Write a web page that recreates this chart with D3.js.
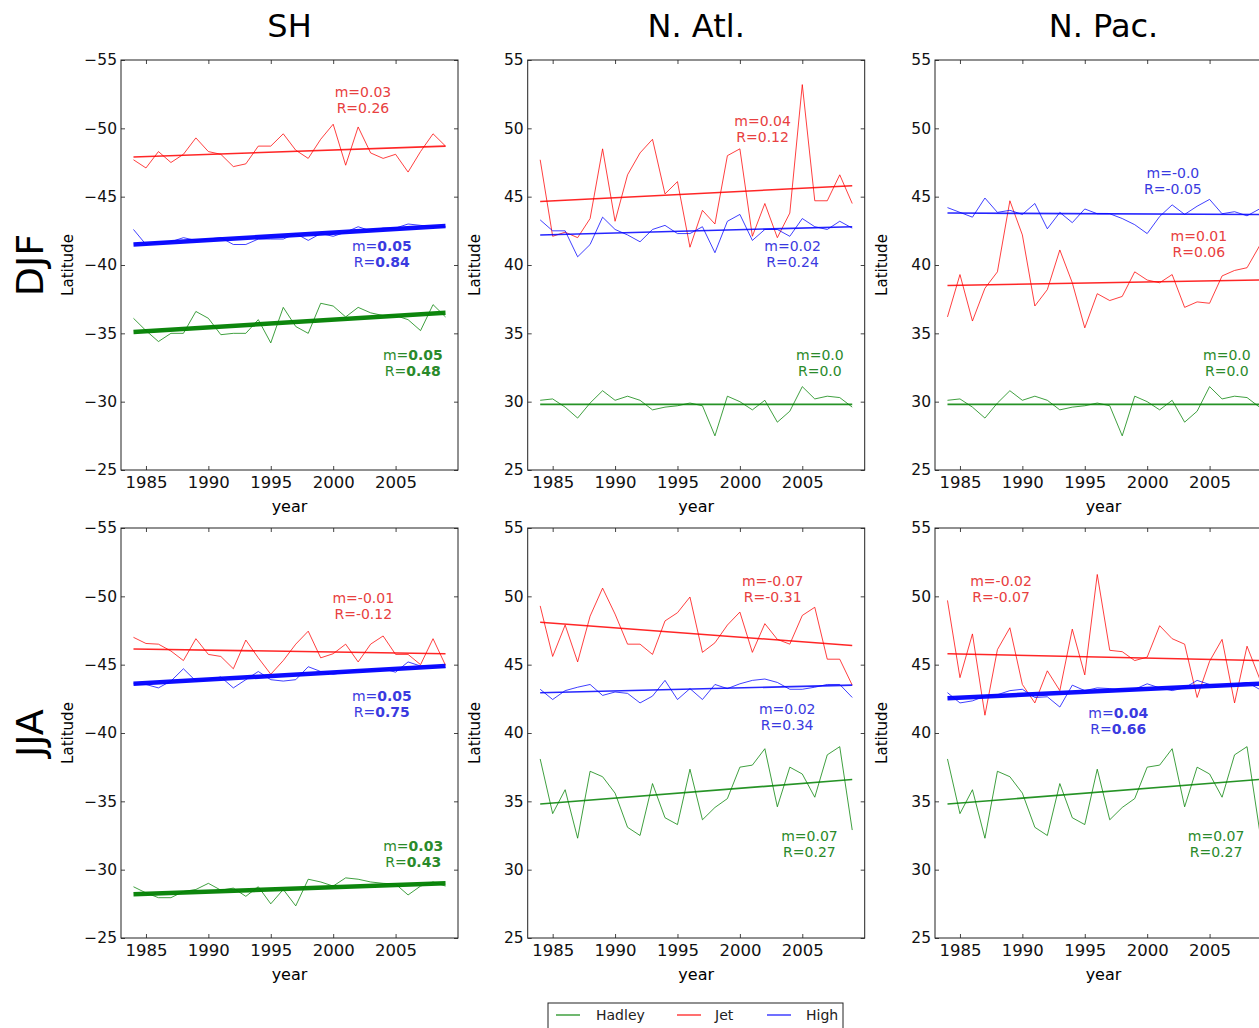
<!DOCTYPE html>
<html>
<head>
<meta charset="utf-8">
<script src="https://cdn.jsdelivr.net/npm/d3@7"></script>
<style>
  body { margin: 0; background: #fff; }
  svg { display: block; font-family: "DejaVu Sans", sans-serif; }
  svg text { font-family: "DejaVu Sans", sans-serif; }
</style>
</head>
<body>
<div id="chart"></div>
<script>
// years on the x axis
var years = [1984, 1985, 1986, 1987, 1988, 1989, 1990, 1991, 1992, 1993, 1994, 1995, 1996,
             1997, 1998, 1999, 2000, 2001, 2002, 2003, 2004, 2005, 2006, 2007, 2008, 2009];
var xTicks = [1985, 1990, 1995, 2000, 2005];
var shTicks = [-55, -50, -45, -40, -35, -30, -25];
var nhTicks = [25, 30, 35, 40, 45, 50, 55];

var columnTitles = ['SH', 'N. Atl.', 'N. Pac.'];
var rowTitles = ['DJF', 'JJA'];
var seriesNames = ['Hadley', 'Jet', 'High'];

// DJF
var shDjfJet = [-47.7, -47.1, -48.3, -47.5, -48.1, -49.3, -48.3, -48.1, -47.2, -47.4, -48.7, -48.7, -49.6,
                -48.4, -47.8, -49.2, -50.3, -47.3, -50.1, -48.2, -47.8, -48.1, -46.8, -48.3, -49.6, -48.7];
var shDjfHigh = [-42.6, -41.5, -41.7, -41.7, -42.0, -41.8, -41.9, -42.0, -41.5, -41.5, -41.9, -41.9, -41.9,
                 -42.3, -41.8, -42.3, -42.1, -42.4, -42.8, -42.5, -42.7, -42.7, -43.0, -42.9, -42.8, -42.8];
var shDjfHadley = [-36.1, -35.2, -34.4, -35.0, -35.0, -36.6, -36.1, -34.9, -35.0, -35.0, -36.0, -34.3, -36.9,
                   -35.5, -35.0, -37.2, -37.0, -36.2, -36.9, -36.5, -36.3, -36.3, -36.0, -35.2, -37.1, -36.2];

var atlDjfJet = [47.7, 42.1, 42.4, 42.0, 43.4, 48.5, 43.2, 46.6, 48.2, 49.2, 45.2, 46.1, 41.3,
                 44.0, 43.0, 48.0, 48.5, 42.1, 44.5, 42.0, 43.8, 53.2, 44.7, 44.7, 46.6, 44.5];
var atlDjfHigh = [43.3, 42.5, 42.5, 40.6, 41.5, 43.5, 42.6, 42.2, 41.7, 42.6, 42.9, 42.3, 42.3,
                  42.8, 40.9, 43.2, 43.7, 41.8, 42.6, 42.6, 42.1, 43.4, 42.8, 42.6, 43.2, 42.7];
var nhDjfHadley = [30.1, 30.2, 29.6, 28.8, 29.9, 30.8, 30.1, 30.4, 30.1, 29.4, 29.6, 29.7, 29.9,
                   29.7, 27.5, 30.4, 30.0, 29.4, 30.1, 28.5, 29.3, 31.1, 30.2, 30.4, 30.3, 29.6];

var pacDjfJet = [36.2, 39.3, 35.9, 38.3, 39.5, 44.7, 42.2, 37.0, 38.2, 41.1, 38.7, 35.4, 37.9,
                 37.4, 37.7, 39.5, 38.9, 38.7, 39.3, 36.9, 37.3, 37.2, 39.2, 39.6, 39.8, 41.4];
var pacDjfHigh = [44.2, 43.85, 43.5, 44.9, 43.85, 44.0, 43.7, 44.5, 42.65, 43.85, 43.1, 44.1, 43.75,
                  43.75, 43.4, 42.95, 42.3, 43.55, 44.4, 43.7, 44.3, 44.8, 43.75, 43.9, 43.6, 44.1];

// JJA
var shJjaJet = [-47.0, -46.55, -46.5, -46.0, -45.3, -46.9, -45.75, -45.6, -44.7, -46.8, -45.5, -44.3, -45.3,
                -46.5, -47.45, -45.5, -45.8, -46.5, -45.2, -46.5, -47.1, -45.75, -45.75, -45.0, -46.9, -44.95];
var shJjaHigh = [-43.6, -43.55, -43.3, -43.8, -44.7, -43.8, -43.9, -44.1, -43.3, -43.9, -44.5, -43.9, -43.8,
                 -43.9, -44.85, -44.5, -44.3, -44.45, -44.6, -44.55, -44.7, -44.45, -45.2, -44.9, -44.9, -44.8];
var shJjaHadley = [-28.75, -28.3, -27.95, -27.95, -28.4, -28.55, -29.0, -28.5, -28.65, -28.05, -28.75, -27.5, -28.55,
                   -27.35, -29.3, -29.1, -28.8, -29.4, -29.3, -29.1, -29.0, -28.95, -28.15, -28.8, -29.1, -28.8];

var atlJjaJet = [49.3, 45.6, 47.9, 45.2, 48.55, 50.6, 48.7, 46.5, 46.5, 45.75, 48.2, 48.8, 49.95,
                 45.9, 46.6, 47.9, 48.85, 45.9, 48.0, 46.85, 46.5, 48.6, 49.2, 45.4, 45.4, 43.5];
var atlJjaHigh = [43.2, 42.45, 43.1, 43.35, 43.55, 42.75, 43.0, 42.9, 42.2, 42.7, 43.85, 42.45, 43.25,
                  42.45, 43.55, 43.25, 43.6, 43.85, 43.95, 43.7, 43.2, 43.2, 43.35, 43.55, 43.55, 42.6];
var nhJjaHadley = [38.1, 34.1, 35.85, 32.3, 37.2, 36.8, 35.6, 33.1, 32.5, 36.3, 33.8, 33.3, 37.35,
                   33.65, 34.55, 35.2, 37.5, 37.65, 38.85, 34.6, 37.5, 37.0, 35.3, 38.4, 39.0, 32.9];

var pacJjaJet = [49.7, 44.05, 47.25, 41.3, 46.1, 47.7, 43.55, 42.2, 44.55, 43.1, 47.6, 44.25, 51.6,
                 46.05, 45.95, 45.3, 45.55, 47.85, 46.9, 46.5, 42.6, 45.25, 46.85, 42.2, 46.35, 44.0];
var pacJjaHigh = [42.95, 42.2, 42.35, 42.7, 42.8, 43.1, 43.2, 42.6, 42.65, 41.9, 43.5, 43.1, 43.3,
                  43.25, 43.1, 43.2, 43.6, 43.3, 43.1, 43.3, 43.85, 43.55, 43.45, 43.55, 43.7, 43.2];

// fitted trend values at 1984 and 2009: [Hadley, Jet, High]
var shDjfTrend = [[-35.1, -36.5], [-47.9, -48.7], [-41.5, -42.85]];
var atlDjfTrend = [[29.8, 29.8], [44.65, 45.8], [42.2, 42.8]];
var pacDjfTrend = [[29.8, 29.8], [38.5, 38.9], [43.8, 43.7]];
var shJjaTrend = [[-28.2, -29.0], [-46.15, -45.8], [-43.6, -44.9]];
var atlJjaTrend = [[34.8, 36.6], [48.1, 46.4], [42.95, 43.5]];
var pacJjaTrend = [[34.8, 36.6], [45.8, 45.3], [42.55, 43.6]];

// slope m and correlation R: [Hadley, Jet, High]
var shDjfM = ['0.05', '0.03', '0.05'], shDjfR = ['0.48', '0.26', '0.84'];
var atlDjfM = ['0.0', '0.04', '0.02'], atlDjfR = ['0.0', '0.12', '0.24'];
var pacDjfM = ['0.0', '0.01', '-0.0'], pacDjfR = ['0.0', '0.06', '-0.05'];
var shJjaM = ['0.03', '-0.01', '0.05'], shJjaR = ['0.43', '-0.12', '0.75'];
var atlJjaM = ['0.07', '-0.07', '0.02'], atlJjaR = ['0.27', '-0.31', '0.34'];
var pacJjaM = ['0.07', '-0.02', '0.04'], pacJjaR = ['0.27', '-0.07', '0.66'];

// significant fits (bold text, thick line)
var shDjfSig = [true, false, true];
var atlDjfSig = [false, false, false];
var pacDjfSig = [false, false, false];
var shJjaSig = [true, false, true];
var atlJjaSig = [false, false, false];
var pacJjaSig = [false, false, true];

var panels = [
    {row: 0, col: 0, sh: true, series: [shDjfHadley, shDjfJet, shDjfHigh], trend: shDjfTrend, m: shDjfM, r: shDjfR, sig: shDjfSig},
    {row: 0, col: 1, sh: false, series: [nhDjfHadley, atlDjfJet, atlDjfHigh], trend: atlDjfTrend, m: atlDjfM, r: atlDjfR, sig: atlDjfSig},
    {row: 0, col: 2, sh: false, series: [nhDjfHadley, pacDjfJet, pacDjfHigh], trend: pacDjfTrend, m: pacDjfM, r: pacDjfR, sig: pacDjfSig},
    {row: 1, col: 0, sh: true, series: [shJjaHadley, shJjaJet, shJjaHigh], trend: shJjaTrend, m: shJjaM, r: shJjaR, sig: shJjaSig},
    {row: 1, col: 1, sh: false, series: [nhJjaHadley, atlJjaJet, atlJjaHigh], trend: atlJjaTrend, m: atlJjaM, r: atlJjaR, sig: atlJjaSig},
    {row: 1, col: 2, sh: false, series: [nhJjaHadley, pacJjaJet, pacJjaHigh], trend: pacJjaTrend, m: pacJjaM, r: pacJjaR, sig: pacJjaSig}
];

// where each m/R label sits, as fractions of the axes box [Hadley, Jet, High]
var labelSpots = [
    [[0.866, 0.720], [0.718, 0.078], [0.774, 0.454]],
    [[0.867, 0.720], [0.697, 0.149], [0.786, 0.454]],
    [[0.866, 0.720], [0.783, 0.429], [0.706, 0.275]],
    [[0.867, 0.776], [0.719, 0.171], [0.774, 0.410]],
    [[0.836, 0.750], [0.727, 0.130], [0.770, 0.441]],
    [[0.834, 0.750], [0.196, 0.130], [0.544, 0.450]]
];

var colors = ['#008000', '#ff0000', '#0000ff'];
var textColors = ['#2a8a2a', '#e84040', '#3a3ae0'];

const width = 1259;
const height = 1028;
const colLeft = [121, 527.7, 935];
const rowTop = [60, 528];
const pw = 337;
const ph = 410;
const fontName = '"DejaVu Sans", sans-serif';

let svg = d3.select('#chart')
    .append('svg')
    .attr('width', width)
    .attr('height', height);

// column titles
columnTitles.forEach(function(t, i){
    svg.append('text')
        .attr('x', colLeft[i] + pw / 2)
        .attr('y', 37)
        .attr('text-anchor', 'middle')
        .style('font-size', '32px')
        .text(t);
});

// row titles
rowTitles.forEach(function(t, i){
    svg.append('text')
        .attr('transform', `translate(43,${rowTop[i] + ph / 2}) rotate(-90)`)
        .attr('text-anchor', 'middle')
        .style('font-size', '38px')
        .text(t);
});

panels.forEach(function(p, pi){
    const left = colLeft[p.col];
    const top = rowTop[p.row];

    const xScale = d3.scaleLinear()
        .domain([1983, 2010])
        .range([0, pw]);

    const yScale = d3.scaleLinear()
        .domain(p.sh ? [-25, -55] : [25, 55])
        .range([ph, 0]);

    const ticks = p.sh ? shTicks : nhTicks;

    let g = svg.append('g')
        .attr('transform', `translate(${left},${top})`);

    // axes, ticks pointing inward on all sides
    let ax = g.append('g')
        .attr('transform', `translate(0,${ph})`)
        .call(d3.axisBottom(xScale).tickValues(xTicks).tickFormat(d3.format('d')).tickSize(-4).tickPadding(5));
    ax.attr('font-family', null);
    ax.selectAll('text').style('font-size', '16.5px').attr('dy', '0.8em');

    g.append('g')
        .call(d3.axisTop(xScale).tickValues(xTicks).tickFormat('').tickSize(-4));

    let ay = g.append('g')
        .call(d3.axisLeft(yScale).tickValues(ticks).tickSize(-4).tickPadding(4));
    ay.attr('font-family', null);
    ay.selectAll('text').style('font-size', '15.5px');

    g.append('g')
        .attr('transform', `translate(${pw},0)`)
        .call(d3.axisRight(yScale).tickValues(ticks).tickFormat('').tickSize(-4));

    g.selectAll('.domain').remove();
    g.selectAll('.tick line').attr('stroke', '#444');
    g.selectAll('.tick text').attr('fill', '#111').style('font-family', fontName);

    g.append('rect')
        .attr('width', pw)
        .attr('height', ph)
        .attr('fill', 'none')
        .attr('stroke', '#222')
        .attr('stroke-width', 1);

    // axis labels
    g.append('text')
        .attr('x', pw / 2)
        .attr('y', ph + 42)
        .attr('text-anchor', 'middle')
        .style('font-size', '16px')
        .text('year');

    g.append('text')
        .attr('transform', `translate(${-48},${ph / 2}) rotate(-90)`)
        .attr('text-anchor', 'middle')
        .style('font-size', '15px')
        .text('Latitude');

    const line = d3.line()
        .x((d, i) => xScale(years[i]))
        .y((d) => yScale(d));

    p.series.forEach(function(vals, si){
        g.append('path')
            .datum(vals)
            .attr('d', line)
            .attr('fill', 'none')
            .attr('stroke', colors[si])
            .attr('stroke-opacity', 0.75)
            .attr('stroke-width', 1);
    });

    p.trend.forEach(function(tr, si){
        g.append('line')
            .attr('x1', xScale(years[0]))
            .attr('x2', xScale(years[years.length - 1]))
            .attr('y1', yScale(tr[0]))
            .attr('y2', yScale(tr[1]))
            .attr('stroke', colors[si])
            .attr('stroke-opacity', p.sig[si] ? 0.95 : 0.85)
            .attr('stroke-width', p.sig[si] ? 4.5 : 1.6);
    });

    // m / R labels
    p.m.forEach(function(mv, si){
        const spot = labelSpots[pi][si];
        const cx = spot[0] * pw;
        const cy = spot[1] * ph;
        const weight = p.sig[si] ? 'bold' : 'normal';
        let t = g.append('text')
            .attr('text-anchor', 'middle')
            .attr('fill', textColors[si])
            .style('font-size', '14px');
        let l1 = t.append('tspan').attr('x', cx).attr('y', cy + 5);
        l1.append('tspan').text('m=');
        l1.append('tspan').style('font-weight', weight).text(mv);
        let l2 = t.append('tspan').attr('x', cx).attr('y', cy + 21);
        l2.append('tspan').text('R=');
        l2.append('tspan').style('font-weight', weight).text(p.r[si]);
    });
});

// legend
let legend = svg.append('g').attr('transform', 'translate(548,1003)');
legend.append('rect')
    .attr('width', 295)
    .attr('height', 32)
    .attr('fill', '#fff')
    .attr('stroke', '#222')
    .attr('stroke-width', 1);

const legendX = [8, 129, 219];
seriesNames.forEach(function(n, i){
    legend.append('line')
        .attr('x1', legendX[i])
        .attr('x2', legendX[i] + 24)
        .attr('y1', 12)
        .attr('y2', 12)
        .attr('stroke', colors[i])
        .attr('stroke-opacity', 0.75)
        .attr('stroke-width', 1.5);
    legend.append('text')
        .attr('x', legendX[i] + (i == 0 ? 40 : (i == 1 ? 38 : 39)))
        .attr('y', 17)
        .style('font-size', '14px')
        .attr('fill', '#222')
        .text(n);
});
</script>
</body>
</html>
